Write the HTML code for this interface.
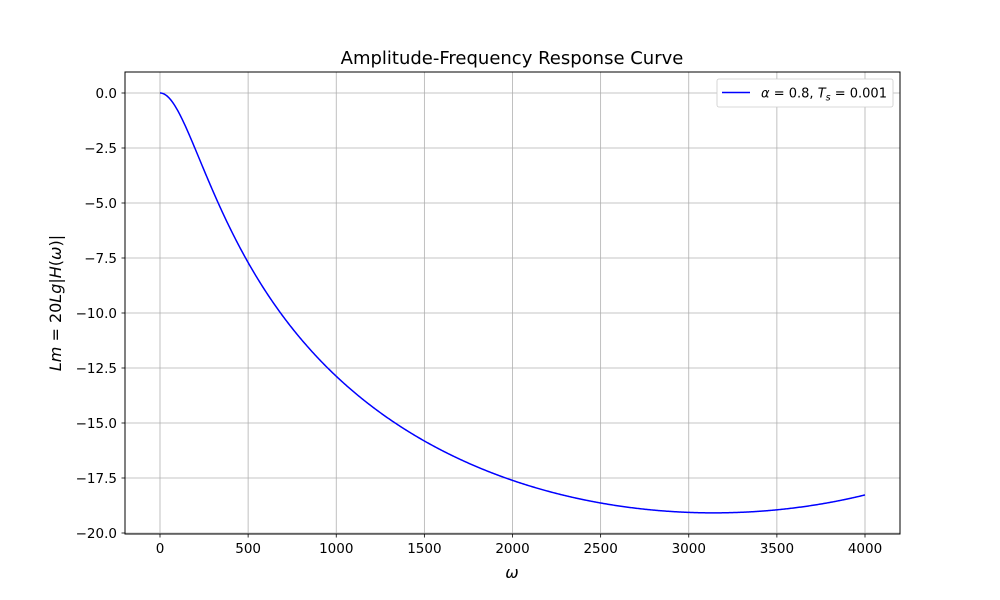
<!DOCTYPE html>
<html><head><meta charset="utf-8"><style>
html,body{margin:0;padding:0;background:#fff;}
svg{display:block;font-family:"DejaVu Sans","Liberation Sans",sans-serif;}
</style></head><body>
<svg id="s" width="1000" height="600" xmlns="http://www.w3.org/2000/svg">
<rect width="1000" height="600" fill="#fff"/>
<g id="grid" stroke="#b0b0b0" stroke-width="0.8"></g>
<path id="curve" fill="none" stroke="#0000ff" stroke-width="1.5"/>
<rect x="125" y="72" width="775" height="462" fill="none" stroke="#000" stroke-width="1"/>
<g id="ticks" font-size="13.5" fill="#000"></g>
<text x="512" y="64" font-size="18" text-anchor="middle">Amplitude-Frequency Response Curve</text>
<text x="512" y="578" font-size="16" font-style="italic" text-anchor="middle">ω</text>
<text transform="translate(61,303) rotate(-90)" font-size="16" text-anchor="middle"><tspan font-style="italic">Lm</tspan> = 20<tspan font-style="italic">Lg</tspan>|<tspan font-style="italic">H</tspan>(<tspan font-style="italic">ω</tspan>)|</text>
<g>
<rect x="717" y="79" width="176" height="28" rx="2" fill="#fff" stroke="#ccc" stroke-width="0.8"/>
<line x1="722" y1="92.5" x2="750" y2="92.5" stroke="#0000ff" stroke-width="1.5"/>
<text x="761" y="97.5" font-size="13"><tspan font-style="italic">α</tspan> = 0.8, <tspan font-style="italic">T</tspan><tspan font-size="9.5" dy="3" font-style="italic">s</tspan><tspan dy="-3"> = 0.001</tspan></text>
</g>
</svg>
<script>
var X=function(w){return 160+w*(705/4000)};
var Y=function(v){return 93-v*22};
var g=document.getElementById('grid'),t=document.getElementById('ticks'),ns='http://www.w3.org/2000/svg';
function el(p,n,a,txt){var e=document.createElementNS(ns,n);for(var k in a)e.setAttribute(k,a[k]);if(txt!=null)e.textContent=txt;p.appendChild(e);}
for(var w=0;w<=4000;w+=500){var x=X(w);el(g,'line',{x1:x,y1:72,x2:x,y2:534});el(t,'line',{x1:x,y1:534,x2:x,y2:537.5,stroke:'#000','stroke-width':0.8});el(t,'text',{x:x,y:553,'text-anchor':'middle'},String(w));}
for(var i=0;i<=8;i++){var v=-2.5*i,y=Y(v);el(g,'line',{x1:125,y1:y,x2:900,y2:y});el(t,'line',{x1:121.5,y1:y,x2:125,y2:y,stroke:'#000','stroke-width':0.8});el(t,'text',{x:117,y:y+5,'text-anchor':'end'},(i==0?'0.0':'\u2212'+(2.5*i).toFixed(1)));}
var d='';for(var k=0;k<=800;k++){var w=k*5,c=Math.cos(w*0.001),m=Math.sqrt(1.64-1.6*c),v=20*Math.log10(0.2/m);d+=(k?'L':'M')+X(w).toFixed(2)+' '+Y(v).toFixed(2);}
document.getElementById('curve').setAttribute('d',d);
</script>
</body></html>
